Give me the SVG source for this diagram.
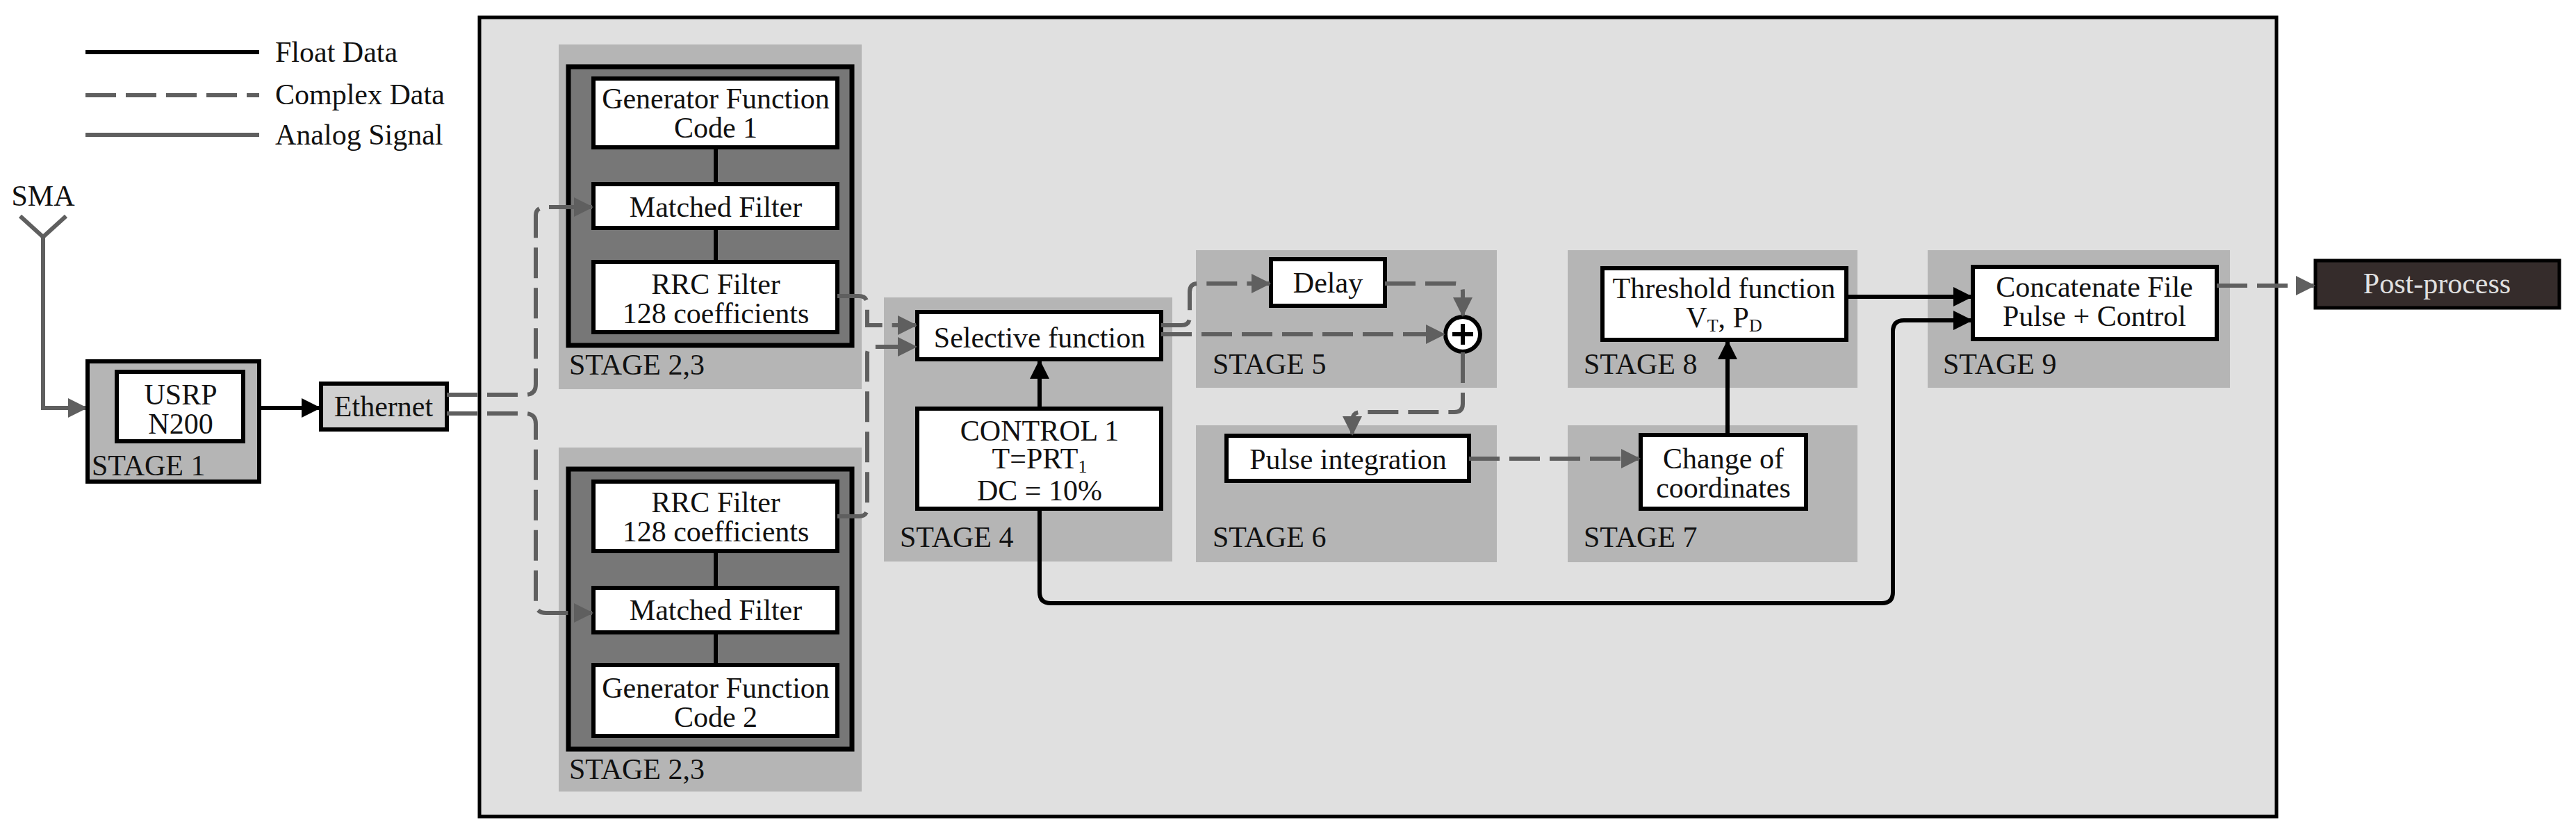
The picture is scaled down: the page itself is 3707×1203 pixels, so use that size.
<svg xmlns="http://www.w3.org/2000/svg" width="3707" height="1203" viewBox="0 0 3707 1203">
<style>
text{font-family:'Liberation Serif','Tinos','DejaVu Serif','Times New Roman',serif;font-size:42px;fill:#111;text-anchor:middle}
.lbl{text-anchor:start}
.stage{fill:#b5b5b5}
.box{fill:#fff;stroke:#000;stroke-width:6}
.dark{fill:#777;stroke:#000;stroke-width:7}
.fl{fill:none;stroke:#000;stroke-width:6}
.cx{fill:none;stroke:#5f5f5f;stroke-width:6;stroke-dasharray:44 14}
.an{fill:none;stroke:#5f5f5f;stroke-width:6}
</style>
<defs>
<marker id="ab" markerUnits="userSpaceOnUse" markerWidth="30" markerHeight="30" refX="26" refY="14" orient="auto"><path d="M0,0 L28,14 L0,28 z" fill="#000"/></marker>
<marker id="ag" markerUnits="userSpaceOnUse" markerWidth="30" markerHeight="30" refX="26" refY="14" orient="auto"><path d="M0,0 L28,14 L0,28 z" fill="#5f5f5f"/></marker>
</defs>
<rect width="3707" height="1203" fill="#fff"/>
<g id="legend">
<line x1="123" y1="75" x2="373" y2="75" class="fl"/>
<line x1="123" y1="137" x2="373" y2="137" class="cx" stroke-dasharray="70 18"/>
<line x1="123" y1="194" x2="373" y2="194" class="an"/>
<text x="396" y="89" class="lbl">Float Data</text>
<text x="396" y="150" class="lbl">Complex Data</text>
<text x="396" y="208" class="lbl">Analog Signal</text>
</g>
<g id="sma">
<text x="62" y="296">SMA</text>
<path d="M29,311 L62,341 L95,311 M62,341 V587 H124" class="an" marker-end="url(#ag)"/>
</g>
<g id="stage1">
<rect x="126" y="520" width="247" height="173" class="stage" stroke="#000" stroke-width="6"/>
<rect x="168" y="535" width="182" height="100" class="box"/>
<text x="260" y="582">USRP</text><text x="260" y="624">N200</text>
<text x="132" y="684" class="lbl">STAGE 1</text>
</g>
<g id="ethernet">
<rect x="462" y="552" width="181" height="66" fill="#d0d0d0" stroke="#000" stroke-width="6"/>
<text x="552" y="599">Ethernet</text>
</g>
<rect id="main" x="690" y="25" width="2586" height="1150" fill="#e0e0e0" stroke="#000" stroke-width="5"/>
<g id="stage23a">
<rect x="804" y="64" width="436" height="496" class="stage"/>
<rect x="818" y="96" width="408" height="401" class="dark"/>
<line x1="1030" y1="212" x2="1030" y2="377" class="fl"/>
<rect x="854" y="113" width="351" height="99" class="box"/>
<text x="1030" y="156">Generator Function</text><text x="1030" y="198">Code 1</text>
<rect x="854" y="265" width="351" height="63" class="box"/>
<text x="1030" y="312">Matched Filter</text>
<rect x="854" y="377" width="351" height="101" class="box"/>
<text x="1030" y="423">RRC Filter</text><text x="1030" y="465">128 coefficients</text>
<text x="819" y="539" class="lbl">STAGE 2,3</text>
</g>
<g id="stage23b">
<rect x="804" y="644" width="436" height="495" class="stage"/>
<rect x="818" y="675" width="408" height="403" class="dark"/>
<line x1="1030" y1="793" x2="1030" y2="957" class="fl"/>
<rect x="854" y="693" width="351" height="100" class="box"/>
<text x="1030" y="737">RRC Filter</text><text x="1030" y="779">128 coefficients</text>
<rect x="854" y="846" width="351" height="64" class="box"/>
<text x="1030" y="892">Matched Filter</text>
<rect x="854" y="957" width="351" height="102" class="box"/>
<text x="1030" y="1004">Generator Function</text><text x="1030" y="1046">Code 2</text>
<text x="819" y="1121" class="lbl">STAGE 2,3</text>
</g>
<g id="stage4">
<rect x="1272" y="428" width="415" height="380" class="stage"/>
<rect x="1320" y="449" width="351" height="68" class="box"/>
<text x="1496" y="500">Selective function</text>
<rect x="1320" y="588" width="351" height="144" class="box"/>
<text x="1496" y="634">CONTROL 1</text>
<text x="1496" y="674">T=PRT<tspan font-size="26" dy="6">1</tspan></text>
<text x="1496" y="720">DC = 10%</text>
<text x="1295" y="787" class="lbl">STAGE 4</text>
</g>
<g id="stage5">
<rect x="1721" y="360" width="433" height="198" class="stage"/>
<rect x="1829" y="373" width="164" height="67" class="box"/>
<text x="1911" y="421">Delay</text>
<circle cx="2105" cy="481" r="25" fill="#fff" stroke="#000" stroke-width="6"/>
<path d="M2105,466 V496 M2090,481 H2120" stroke="#000" stroke-width="6"/>
<text x="1745" y="538" class="lbl">STAGE 5</text>
</g>
<g id="stage6">
<rect x="1721" y="612" width="433" height="197" class="stage"/>
<rect x="1765" y="627" width="349" height="65" class="box"/>
<text x="1940" y="675">Pulse integration</text>
<text x="1745" y="787" class="lbl">STAGE 6</text>
</g>
<g id="stage7">
<rect x="2256" y="612" width="417" height="197" class="stage"/>
<rect x="2361" y="626" width="238" height="106" class="box"/>
<text x="2480" y="674">Change of</text><text x="2480" y="716">coordinates</text>
<text x="2279" y="787" class="lbl">STAGE 7</text>
</g>
<g id="stage8">
<rect x="2256" y="360" width="417" height="198" class="stage"/>
<rect x="2306" y="386" width="351" height="103" class="box"/>
<text x="2481" y="429">Threshold function</text>
<text x="2481" y="471">V<tspan font-size="26" dy="6">T</tspan><tspan dy="-6">, P</tspan><tspan font-size="26" dy="6">D</tspan></text>
<text x="2279" y="538" class="lbl">STAGE 8</text>
</g>
<g id="stage9">
<rect x="2774" y="360" width="435" height="198" class="stage"/>
<rect x="2839" y="384" width="351" height="104" class="box"/>
<text x="3014" y="427">Concatenate File</text><text x="3014" y="469">Pulse + Control</text>
<text x="2796" y="538" class="lbl">STAGE 9</text>
</g>
<g id="postprocess">
<rect x="3332" y="375" width="351" height="68" fill="#352c2b" stroke="#000" stroke-width="5"/>
<text x="3507" y="422" style="fill:#e0e0e0">Post-process</text>
</g>
<g id="connectors">
<line x1="373" y1="587" x2="460" y2="587" class="fl" marker-end="url(#ab)"/>
<path d="M643,568 H756 Q771,568 771,553 V310 Q771,298 786,298 H852" class="cx" marker-end="url(#ag)"/>
<path d="M643,595 H756 Q771,595 771,610 V868 Q771,882 786,882 H852" class="cx" marker-end="url(#ag)"/>
<path d="M1205,426 H1236 Q1248,426 1248,438 V468 H1318" class="cx" marker-end="url(#ag)"/>
<path d="M1205,743 H1236 Q1248,743 1248,731 V509 Q1248,499 1260,499 H1318" class="cx" marker-end="url(#ag)"/>
<line x1="1496" y1="588" x2="1496" y2="519" class="fl" marker-end="url(#ab)"/>
<path d="M1671,468 H1700 Q1712,468 1712,456 V420 Q1712,408 1724,408 H1827" class="cx" marker-end="url(#ag)"/>
<line x1="1671" y1="481" x2="2078" y2="481" class="cx" marker-end="url(#ag)"/>
<path d="M1993,408 H2093 Q2105,408 2105,420 V454" class="cx" marker-end="url(#ag)"/>
<path d="M2105,507 V581 Q2105,593 2093,593 H1958 Q1946,593 1946,605 V625" class="cx" marker-end="url(#ag)"/>
<line x1="2114" y1="660" x2="2359" y2="660" class="cx" marker-end="url(#ag)"/>
<line x1="2486" y1="626" x2="2486" y2="491" class="fl" marker-end="url(#ab)"/>
<line x1="2657" y1="427" x2="2837" y2="427" class="fl" marker-end="url(#ab)"/>
<path d="M1496,732 V852 Q1496,868 1512,868 H2708 Q2724,868 2724,852 V477 Q2724,461 2740,461 H2837" class="fl" marker-end="url(#ab)"/>
<line x1="3190" y1="411" x2="3330" y2="411" class="cx" marker-end="url(#ag)"/>
</g>
</svg>
